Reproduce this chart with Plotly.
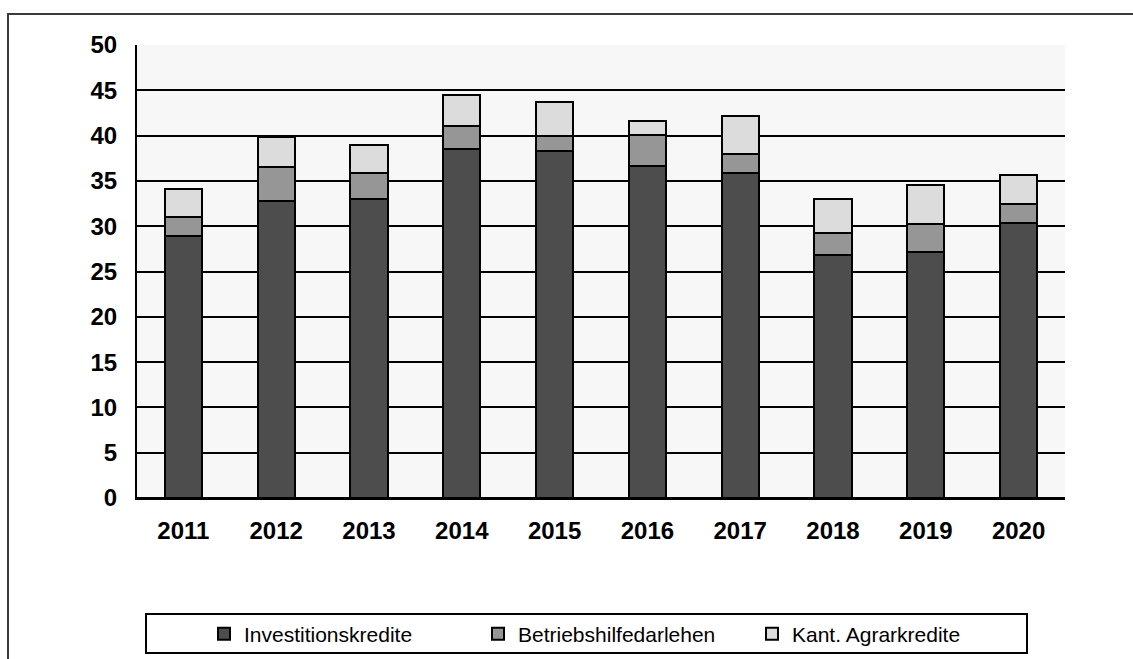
import plotly.graph_objects as go

# Agricultural credit volumes per year (stacked)
years = ["2011", "2012", "2013", "2014", "2015", "2016", "2017", "2018", "2019", "2020"]
investitionskredite = [28.9, 32.8, 33.0, 38.5, 38.3, 36.7, 35.9, 26.8, 27.1, 30.4]
betriebshilfedarlehen = [2.1, 3.7, 2.9, 2.6, 1.7, 3.4, 2.1, 2.4, 3.1, 2.1]
kant_agrarkredite = [3.1, 3.3, 3.1, 3.4, 3.7, 1.5, 4.2, 3.8, 4.4, 3.1]

series_names = ["Investitionskredite", "Betriebshilfedarlehen", "Kant. Agrarkredite"]
series_values = [investitionskredite, betriebshilfedarlehen, kant_agrarkredite]
series_colors = ["#4d4d4d", "#969696", "#dcdcdc"]
y_ticks = [0, 5, 10, 15, 20, 25, 30, 35, 40, 45, 50]

W, H = 1133, 659
L, R, T, B = 137, 68, 45, 161
PW, PH = W - L - R, H - T - B

def px_x(x):
    return (x - L) / PW

def px_y(y):
    return (H - B - y) / PH

FONT = "Liberation Sans, Arial, sans-serif"

fig = go.Figure()
for name, vals, color in zip(series_names, series_values, series_colors):
    fig.add_trace(go.Bar(
        x=years, y=vals, name=name,
        marker=dict(color=color, line=dict(color="black", width=2)),
        width=0.4,
    ))

fig.update_layout(
    width=W, height=H,
    margin=dict(l=L, r=R, t=T, b=B, pad=0, autoexpand=False),
    barmode="stack",
    paper_bgcolor="white",
    plot_bgcolor="#f7f7f7",
    font=dict(family=FONT, color="black"),
    showlegend=True,
    legend=dict(
        orientation="h",
        x=px_x(204), xanchor="left",
        y=px_y(634), yanchor="middle",
        entrywidth=229, entrywidthmode="pixels",
        font=dict(family=FONT, size=21, color="black"),
        bgcolor="rgba(0,0,0,0)",
        traceorder="normal",
    ),
    xaxis=dict(
        type="category",
        showgrid=False,
        showline=True, linecolor="black", linewidth=2,
        ticks="", ticklabelstandoff=10,
        tickfont=dict(family=FONT, size=24, color="black", weight="bold"),
        fixedrange=True,
    ),
    yaxis=dict(
        range=[0, 50],
        tickvals=y_ticks,
        showgrid=True, gridcolor="black", gridwidth=2,
        zeroline=True, zerolinecolor="black", zerolinewidth=2,
        showline=True, linecolor="black", linewidth=2,
        ticks="", ticklabelstandoff=13,
        tickfont=dict(family=FONT, size=24, color="black", weight="bold"),
        fixedrange=True,
    ),
    shapes=[
        # chart frame
        dict(type="rect", xref="paper", yref="paper",
             x0=px_x(8), x1=px_x(1145), y0=px_y(14), y1=px_y(680),
             line=dict(color="#3a3a3a", width=2), fillcolor="rgba(0,0,0,0)"),
        # legend box
        dict(type="rect", xref="paper", yref="paper",
             x0=px_x(146), x1=px_x(1027), y0=px_y(614), y1=px_y(653),
             line=dict(color="black", width=2), fillcolor="rgba(0,0,0,0)"),
    ],
)

fig.write_html("out.html", config={"displayModeBar": False})
